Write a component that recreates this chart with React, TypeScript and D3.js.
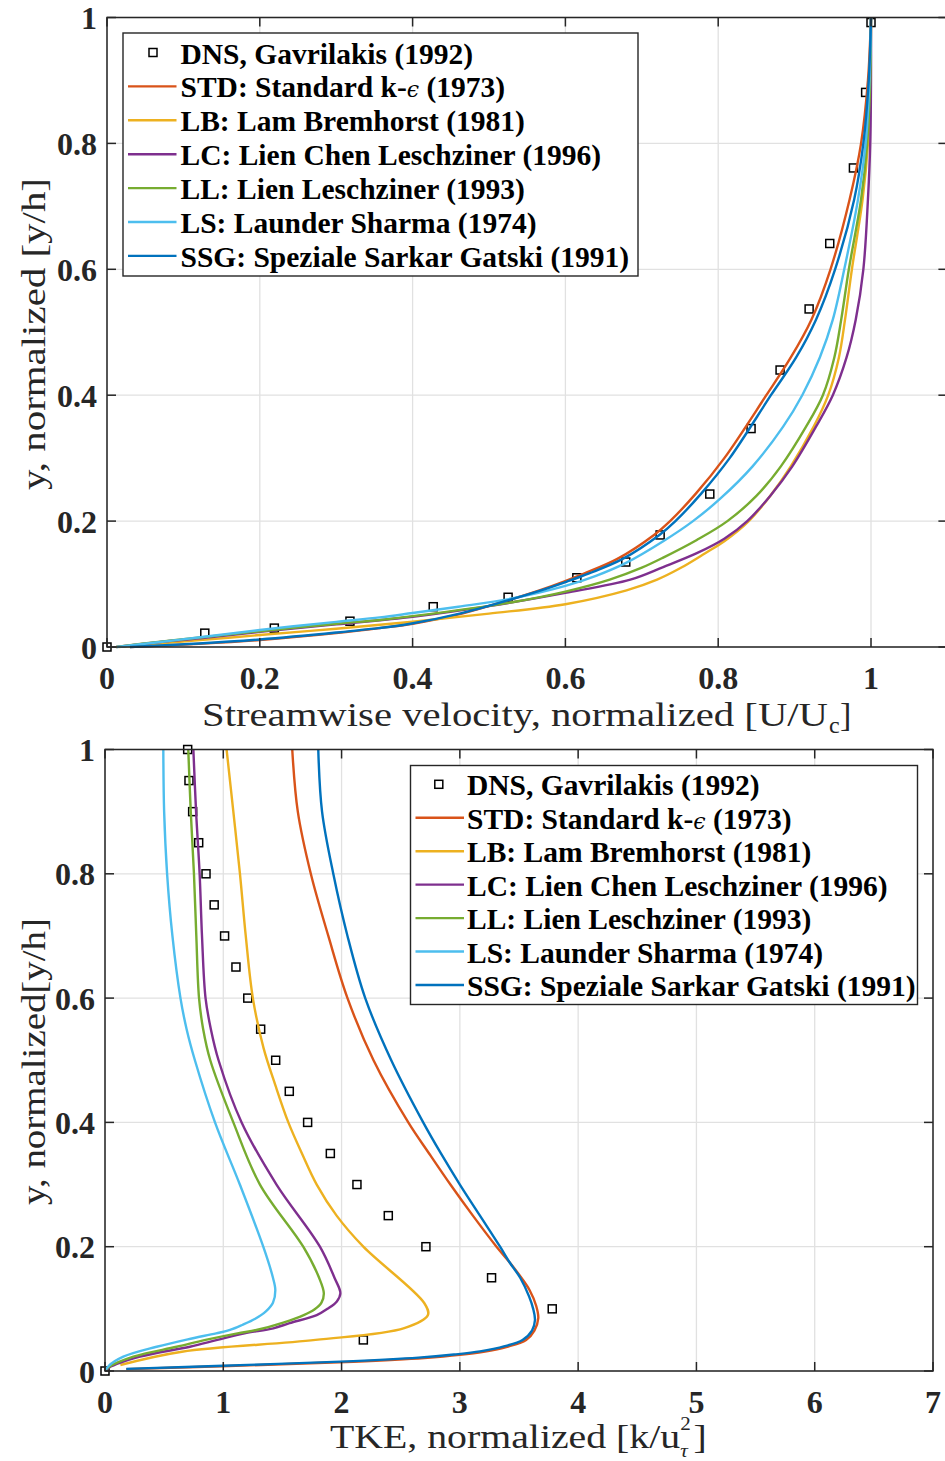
import React from 'react';
import * as d3 from 'd3';

type Pt = [number, number];

// ---------- Top panel: streamwise velocity U/Uc vs y/h ----------
const uDNS: Pt[] = [[0,0],[0.128,0.022],[0.219,0.030],[0.318,0.041],[0.427,0.064],[0.525,0.079],[0.615,0.110],[0.679,0.135],[0.724,0.178],[0.789,0.243],[0.843,0.347],[0.881,0.440],[0.919,0.537],[0.946,0.641],[0.977,0.761],[0.993,0.881],[1.0,0.992]];
const uSTD: Pt[] = [[0.03,0],[0.12,0.005],[0.2,0.011],[0.3,0.022],[0.357,0.030],[0.40,0.037],[0.466,0.0535],[0.527,0.075],[0.566,0.09],[0.598,0.104],[0.625,0.117],[0.668,0.14],[0.716,0.178],[0.737,0.2],[0.771,0.244],[0.808,0.3],[0.863,0.4],[0.895,0.46],[0.922,0.52],[0.947,0.6],[0.972,0.711],[0.987,0.8],[0.996,0.9],[1.0,1.0]];
const uLB: Pt[] = [[0.015,0],[0.122,0.011],[0.2,0.019],[0.3,0.029],[0.4,0.040],[0.5,0.053],[0.6,0.068],[0.68,0.09],[0.72,0.107],[0.75,0.125],[0.783,0.149],[0.808,0.168],[0.84,0.2],[0.868,0.24],[0.895,0.287],[0.925,0.35],[0.944,0.4],[0.958,0.46],[0.966,0.52],[0.975,0.6],[0.989,0.711],[0.996,0.8],[0.999,0.9],[1.0,1.0]];
const uLC: Pt[] = [[0.012,0],[0.07,0.008],[0.122,0.014],[0.2,0.024],[0.3,0.036],[0.4,0.048],[0.5,0.065],[0.6,0.086],[0.685,0.107],[0.728,0.127],[0.772,0.149],[0.808,0.172],[0.838,0.2],[0.868,0.24],[0.897,0.287],[0.928,0.35],[0.95,0.4],[0.968,0.46],[0.98,0.52],[0.99,0.6],[0.996,0.711],[0.999,0.8],[1.0,0.9],[1.0,1.0]];
const uLL: Pt[] = [[0.012,0],[0.07,0.0085],[0.122,0.015],[0.2,0.025],[0.3,0.037],[0.357,0.043],[0.4,0.049],[0.53,0.071],[0.6,0.088],[0.658,0.107],[0.7,0.126],[0.728,0.142],[0.772,0.170],[0.812,0.2],[0.85,0.24],[0.882,0.287],[0.915,0.35],[0.937,0.4],[0.952,0.46],[0.961,0.52],[0.971,0.6],[0.987,0.711],[0.995,0.8],[0.999,0.9],[1.0,1.0]];
const uLS: Pt[] = [[0.013,0],[0.07,0.008],[0.122,0.0154],[0.2,0.027],[0.3,0.040],[0.357,0.047],[0.4,0.054],[0.46,0.064],[0.53,0.077],[0.6,0.097],[0.64,0.113],[0.68,0.134],[0.728,0.168],[0.767,0.2],[0.803,0.236],[0.845,0.287],[0.885,0.35],[0.91,0.4],[0.933,0.46],[0.95,0.52],[0.965,0.6],[0.983,0.711],[0.993,0.8],[0.998,0.9],[1.0,1.0]];
const uSSG: Pt[] = [[0.03,0],[0.12,0.0055],[0.2,0.012],[0.3,0.023],[0.355,0.030],[0.397,0.037],[0.463,0.0535],[0.527,0.075],[0.568,0.09],[0.602,0.104],[0.631,0.117],[0.675,0.14],[0.723,0.178],[0.744,0.2],[0.778,0.244],[0.815,0.3],[0.869,0.4],[0.902,0.46],[0.928,0.52],[0.953,0.6],[0.978,0.711],[0.99,0.8],[0.997,0.9],[1.0,1.0]];

// ---------- Bottom panel: TKE k/u_tau^2 vs y/h ----------
const kDNS: Pt[] = [[0,0],[2.184,0.05],[3.781,0.10],[3.268,0.15],[2.713,0.2],[2.395,0.25],[2.130,0.30],[1.905,0.35],[1.713,0.4],[1.558,0.45],[1.443,0.5],[1.316,0.55],[1.207,0.6],[1.107,0.65],[1.011,0.70],[0.923,0.75],[0.854,0.80],[0.792,0.85],[0.741,0.90],[0.710,0.95],[0.699,1.0]];
const kSTD: Pt[] = [[0.18,0.003],[1.05,0.008],[2.1,0.015],[2.7,0.021],[3.0,0.026],[3.2,0.031],[3.4,0.039],[3.56,0.05],[3.63,0.065],[3.663,0.085],[3.645,0.105],[3.59,0.13],[3.52,0.15],[3.42,0.175],[3.31,0.2],[3.11,0.25],[2.92,0.3],[2.74,0.35],[2.564,0.4],[2.27,0.5],[2.05,0.6],[1.888,0.7],[1.74,0.8],[1.63,0.9],[1.583,1.0]];
const kLB: Pt[] = [[0.13,0.0097],[0.65,0.031],[1.78,0.05],[2.53,0.069],[2.73,0.09],[2.70,0.109],[2.184,0.2],[1.958,0.25],[1.79,0.3],[1.665,0.35],[1.55,0.4],[1.44,0.46],[1.34,0.52],[1.25,0.6],[1.19,0.7],[1.141,0.8],[1.085,0.9],[1.028,1.0]];
const kLC: Pt[] = [[0,0],[0.03,0.005],[0.296,0.023],[0.718,0.039],[0.95,0.05],[1.18,0.0606],[1.423,0.0687],[1.56,0.077],[1.79,0.09],[1.88,0.1],[1.96,0.112],[1.99,0.125],[1.94,0.15],[1.817,0.2],[1.45,0.3],[1.155,0.4],[0.96,0.5],[0.895,0.55],[0.85,0.6],[0.82,0.7],[0.80,0.8],[0.77,0.9],[0.747,1.0]];
const kLL: Pt[] = [[0,0],[0.03,0.006],[0.24,0.023],[0.606,0.039],[0.85,0.05],[1.12,0.0606],[1.28,0.066],[1.507,0.078],[1.68,0.09],[1.77,0.099],[1.83,0.11],[1.85,0.125],[1.81,0.15],[1.676,0.2],[1.31,0.3],[1.085,0.4],[0.89,0.5],[0.83,0.55],[0.795,0.6],[0.772,0.7],[0.752,0.8],[0.725,0.9],[0.704,1.0]];
const kLS: Pt[] = [[0,0],[0.03,0.008],[0.155,0.023],[0.437,0.039],[0.7,0.051],[0.94,0.0606],[1.057,0.066],[1.16,0.074],[1.27,0.084],[1.36,0.096],[1.42,0.11],[1.44,0.13],[1.42,0.15],[1.338,0.2],[1.14,0.3],[0.93,0.4],[0.76,0.5],[0.69,0.55],[0.638,0.6],[0.57,0.7],[0.525,0.8],[0.50,0.9],[0.493,1.0]];
const kSSG: Pt[] = [[0.18,0.0035],[1.0,0.0085],[2.05,0.0155],[2.65,0.0215],[2.95,0.0265],[3.17,0.0315],[3.38,0.04],[3.53,0.05],[3.61,0.065],[3.635,0.082],[3.62,0.1],[3.585,0.12],[3.51,0.15],[3.42,0.175],[3.34,0.2],[3.17,0.25],[3.0,0.3],[2.84,0.35],[2.69,0.4],[2.42,0.5],[2.2,0.6],[2.05,0.7],[1.93,0.8],[1.835,0.9],[1.803,1.0]];

const modelColors = ['#D95319', '#EDB120', '#7E2F8E', '#77AC30', '#4DBEEE', '#0072BD'];
const legendTexts = [
  'DNS, Gavrilakis (1992)',
  'STD: Standard k-',
  'LB: Lam Bremhorst (1981)',
  'LC: Lien Chen Leschziner (1996)',
  'LL: Lien Leschziner (1993)',
  'LS: Launder Sharma (1974)',
  'SSG: Speziale Sarkar Gatski (1991)',
];
const yTickVals = [0, 0.2, 0.4, 0.6, 0.8, 1];
const yTickLabels = ['0', '0.2', '0.4', '0.6', '0.8', '1'];
const uTickVals = [0, 0.2, 0.4, 0.6, 0.8, 1];
const uTickLabels = ['0', '0.2', '0.4', '0.6', '0.8', '1'];
const kTickVals = [0, 1, 2, 3, 4, 5, 6, 7];
const kTickLabels = ['0', '1', '2', '3', '4', '5', '6', '7'];

const SERIF = '"Liberation Serif", "Times New Roman", serif';
const AX = '#262626';
const GRID = '#e1e1e1';

type PanelProps = {
  sx: d3.ScaleLinear<number, number>;
  sy: d3.ScaleLinear<number, number>;
  xTicks: number[];
  xTickLabels: string[];
  dns: Pt[];
  series: Pt[][];
  legend: { x: number; y: number; w: number; h: number; lineX0: number; lineX1: number; textX: number; rowY0: number; rowDy: number; markerX: number };
};

function Panel({ sx, sy, xTicks, xTickLabels, dns, series, legend }: PanelProps) {
  const [x0, x1] = sx.range();
  const [y0, y1] = sy.range(); // y0 bottom, y1 top
  const tl = 9;
  const gen = d3.line<Pt>().x(d => sx(d[0])).y(d => sy(d[1])).curve(d3.curveCatmullRom.alpha(0.5));
  return (
    <g>
      {xTicks.map((t, i) => (
        <line key={'gx' + i} x1={sx(t)} x2={sx(t)} y1={y0} y2={y1} stroke={GRID} strokeWidth={1.3} />
      ))}
      {yTickVals.map((t, i) => (
        <line key={'gy' + i} x1={x0} x2={x1} y1={sy(t)} y2={sy(t)} stroke={GRID} strokeWidth={1.3} />
      ))}
      {dns.map((d, i) => (
        <rect key={'m' + i} x={sx(d[0]) - 4} y={sy(d[1]) - 4} width={8} height={8} fill="none" stroke="#000" strokeWidth={1.5} />
      ))}
      {series.map((s, i) => (
        <path key={'s' + i} d={gen(s) || ''} fill="none" stroke={modelColors[i]} strokeWidth={2.4} strokeLinejoin="round" />
      ))}
      <rect x={x0} y={y1} width={x1 - x0} height={y0 - y1} fill="none" stroke={AX} strokeWidth={1.5} />
      {xTicks.map((t, i) => (
        <g key={'tx' + i}>
          <line x1={sx(t)} x2={sx(t)} y1={y0} y2={y0 - tl} stroke={AX} strokeWidth={1.5} />
          <line x1={sx(t)} x2={sx(t)} y1={y1} y2={y1 + tl} stroke={AX} strokeWidth={1.5} />
          <text x={sx(t)} y={y0 + 42} textAnchor="middle" fontFamily={SERIF} fontWeight="bold" fontSize={32} fill="#262626">{xTickLabels[i]}</text>
        </g>
      ))}
      {yTickVals.map((t, i) => (
        <g key={'ty' + i}>
          <line x1={x0} x2={x0 + tl} y1={sy(t)} y2={sy(t)} stroke={AX} strokeWidth={1.5} />
          <line x1={x1} x2={x1 - tl} y1={sy(t)} y2={sy(t)} stroke={AX} strokeWidth={1.5} />
          <text x={x0 - 10} y={sy(t) + 11.5} textAnchor="end" fontFamily={SERIF} fontWeight="bold" fontSize={32} fill="#262626">{yTickLabels[i]}</text>
        </g>
      ))}
      <rect x={legend.x} y={legend.y} width={legend.w} height={legend.h} fill="#fff" stroke={AX} strokeWidth={1.4} />
      {legendTexts.map((txt, i) => {
        const cy = legend.rowY0 + i * legend.rowDy;
        return (
          <g key={'lg' + i}>
            {i === 0 ? (
              <rect x={legend.markerX - 4} y={cy - 4} width={8} height={8} fill="none" stroke="#000" strokeWidth={1.5} />
            ) : (
              <line x1={legend.lineX0} x2={legend.lineX1} y1={cy} y2={cy} stroke={modelColors[i - 1]} strokeWidth={2.4} />
            )}
            <text x={legend.textX} y={cy + 11} fontFamily={SERIF} fontWeight="bold" fontSize={29.5} fill="#000">
              {txt}
              {i === 1 ? (
                <>
                  <tspan fontWeight="normal" fontStyle="italic" fontFamily='"DejaVu Serif", serif' fontSize={22}>ϵ</tspan>
                  <tspan> (1973)</tspan>
                </>
              ) : null}
            </text>
          </g>
        );
      })}
    </g>
  );
}

export default function App() {
  const sxTop = d3.scaleLinear().domain([0, 1.1]).range([107, 107 + 1.1 * 764]);
  const syTop = d3.scaleLinear().domain([0, 1]).range([647, 17.5]);
  const sxBot = d3.scaleLinear().domain([0, 7]).range([105, 933]);
  const syBot = d3.scaleLinear().domain([0, 1]).range([1371, 749.5]);

  const topSeries = [uSTD, uLB, uLC, uLL, uLS, uSSG];
  const botSeries = [kSTD, kLB, kLC, kLL, kLS, kSSG];

  return (
    <div style={{ position: 'absolute', left: 0, top: 0, width: 945, height: 1461, background: '#fff' }}>
      <svg width={945} height={1461} viewBox="0 0 945 1461" style={{ display: 'block' }}>
        <rect x={0} y={0} width={945} height={1461} fill="#fff" />
        <Panel
          sx={sxTop} sy={syTop} xTicks={uTickVals} xTickLabels={uTickLabels}
          dns={uDNS} series={topSeries}
          legend={{ x: 123, y: 33, w: 515, h: 243, lineX0: 128, lineX1: 176.5, textX: 180.5, rowY0: 52.5, rowDy: 33.9, markerX: 153 }}
        />
        <Panel
          sx={sxBot} sy={syBot} xTicks={kTickVals} xTickLabels={kTickLabels}
          dns={kDNS} series={botSeries}
          legend={{ x: 410.5, y: 765.5, w: 507, h: 239, lineX0: 415.5, lineX1: 464, textX: 467, rowY0: 784.3, rowDy: 33.45, markerX: 438.8 }}
        />
        <text x={202} y={726} fontFamily={SERIF} fontSize={34} fill="#262626" textLength={626} lengthAdjust="spacingAndGlyphs">Streamwise velocity, normalized [U/U</text>
        <text x={829} y={733} fontFamily={SERIF} fontSize={24} fill="#262626">c</text>
        <text x={840} y={726} fontFamily={SERIF} fontSize={34} fill="#262626">]</text>
        <text transform="translate(45,334) rotate(-90)" textAnchor="middle" fontFamily={SERIF} fontSize={34} fill="#262626" textLength={312} lengthAdjust="spacingAndGlyphs">y, normalized [y/h]</text>
        <text transform="translate(330,1448) scale(1.17,1)" fontFamily={SERIF} fontSize={34} fill="#262626">
          TKE, normalized [k/u
          <tspan fontSize={18} dy={-18}>2</tspan>
          <tspan fontSize={18} fontStyle="italic" dx={-9} dy={27}>τ</tspan>
          <tspan dx={5} dy={-9}>]</tspan>
        </text>
        <text transform="translate(45,1061.5) rotate(-90)" textAnchor="middle" fontFamily={SERIF} fontSize={34} fill="#262626" textLength={287} lengthAdjust="spacingAndGlyphs">y, normalized[y/h]</text>
      </svg>
    </div>
  );
}
